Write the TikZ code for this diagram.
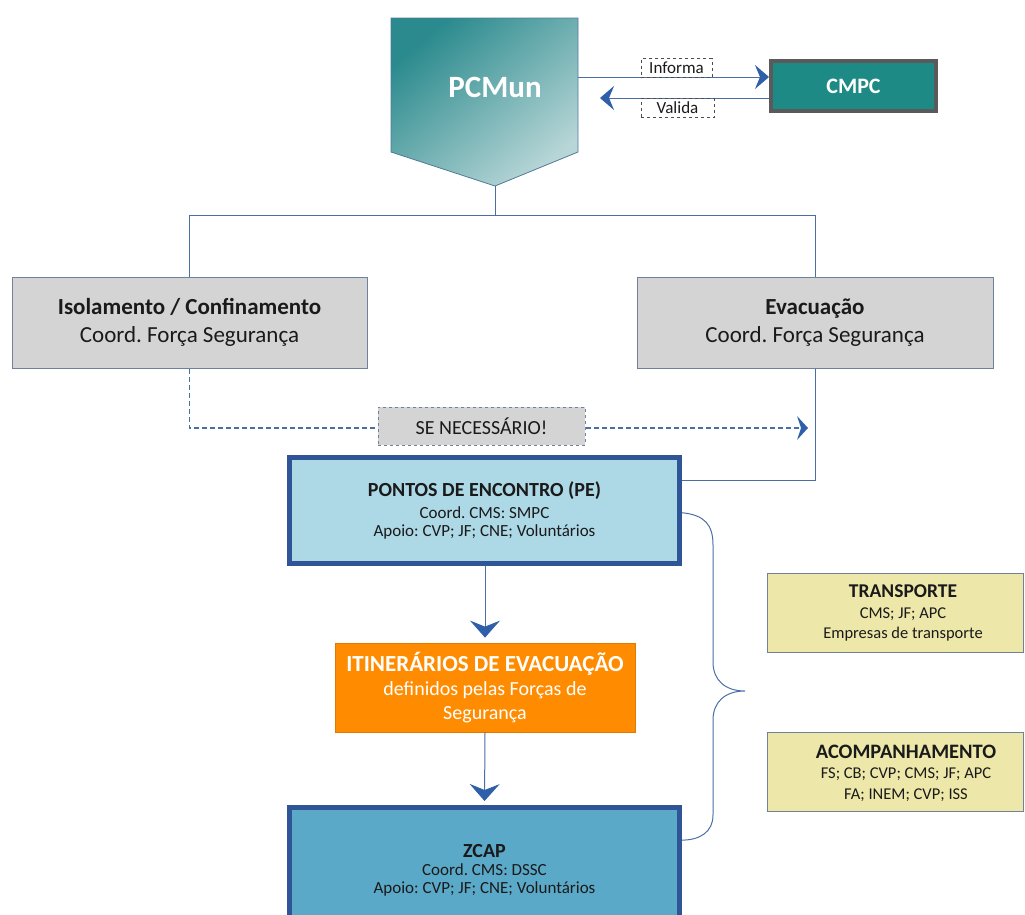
\documentclass[tikz,border=0pt]{standalone}
\usepackage{fontspec}
\setmainfont{Carlito}
\frenchspacing
\usetikzlibrary{arrows.meta,calc}
\definecolor{conn}{HTML}{4A6FA5}
\definecolor{tipc}{HTML}{2F5FA8}
\definecolor{grayfill}{HTML}{D4D4D4}
\definecolor{grayedge}{HTML}{6F819C}
\definecolor{pefill}{HTML}{ADD8E6}
\definecolor{peedge}{HTML}{2F5597}
\definecolor{orangefill}{HTML}{FF8C00}
\definecolor{zcapfill}{HTML}{5BA9C8}
\definecolor{yelfill}{HTML}{EDE7A9}
\definecolor{cmpcfill}{HTML}{1E8A85}
\definecolor{cmpcedge}{HTML}{5A5A5A}
\definecolor{tealdark}{HTML}{2A8A8D}
\definecolor{teallight}{HTML}{B8D6D7}
\definecolor{textdark}{HTML}{1A1A1A}
\definecolor{pcmedge}{HTML}{4F7A9A}
\begin{document}
\begin{tikzpicture}[x=1pt,y=-1pt,
  connector/.style={draw=conn,line width=1pt},
  tipA/.style={-{Stealth[length=14pt,width=24pt,inset=5pt,fill=tipc,color=tipc]}},
  tipB/.style={-{Stealth[length=17pt,width=30pt,inset=6pt,fill=tipc,color=tipc]}},
  graybox/.style={draw=grayedge,line width=1pt,fill=grayfill,minimum width=355pt,minimum height=91pt,align=center,inner sep=0pt,text=textdark,font=\fontsize{23}{28}\selectfont},
  pebox/.style={draw=peedge,line width=5pt,fill=pefill,minimum width=390pt,align=center,inner sep=0pt,text=textdark,font=\fontsize{17}{18}\selectfont},
  orangebox/.style={draw=orangefill!88!black,line width=0.8pt,fill=orangefill,minimum width=300pt,minimum height=89pt,align=center,inner sep=0pt,text=white,font=\fontsize{20}{24}\selectfont},
  yelbox/.style={draw=grayedge,line width=1pt,fill=yelfill,minimum width=256pt,minimum height=79pt,inner sep=0pt},
  yeltext/.style={align=center,inner sep=0pt,text=textdark,font=\fontsize{16.5}{20.5}\selectfont},
  labelbox/.style={draw=black!70,dashed,line width=0.7pt,inner sep=0pt,minimum height=19pt,font=\fontsize{17}{18}\selectfont,text=textdark},
  sebox/.style={draw=grayedge,dashed,line width=1pt,fill=grayfill,minimum width=207pt,minimum height=38pt,inner sep=0pt,font=\fontsize{20}{22}\selectfont,text=textdark},
]
\useasboundingbox (0,0) rectangle (1025,914);
\clip (0,0) rectangle (1025,914);

% PCMun pentagon
\shade[top color=tealdark,bottom color=teallight,shading angle=40]
  (391,18) -- (578,18) -- (578,152) -- (495,186) -- (391,152) -- cycle;
\draw[pcmedge,line width=0.8pt] (391,18) -- (578,18) -- (578,152) -- (495,186) -- (391,152) -- cycle;
\node[text=white,font=\fontsize{31}{33}\selectfont\bfseries] (pcmun) at (495,87) {PCMun};
\coordinate (pcmtip) at (495,186);
\coordinate (pcmr1) at (578,77);
\coordinate (pcmr2) at (600,98);

% CMPC
\node[draw=cmpcedge,line width=4pt,fill=cmpcfill,minimum width=165pt,minimum height=50pt,inner sep=0pt,text=white,font=\fontsize{22}{24}\selectfont\bfseries] (cmpc) at (853.5,86) {CMPC};

\draw[connector,tipA] (pcmr1) -- (pcmr1 -| cmpc.west);
\draw[connector,tipA] (pcmr2 -| cmpc.west) -- (pcmr2);
\node[labelbox,minimum width=71pt] (informa) at (676.5,68) {Informa};
\node[labelbox,minimum width=73pt] (valida) at (677.5,108) {Valida};

% second level
\node[graybox] (iso) at (189.5,322.5) {\textbf{Isolamento / Confinamento}\\Coord. Força Segurança};
\node[graybox,minimum width=356pt] (evac) at (815,322.5) {\textbf{Evacuação}\\Coord. Força Segurança};
\coordinate (split) at (495,215);
\draw[connector] (pcmtip) -- (split);
\draw[connector] (split) -| (iso.north);
\draw[connector] (split) -| (evac.north);

% PE
\node[pebox,minimum height=106pt] (pe) at (484.5,510.5) {\textbf{\fontsize{20}{20}\selectfont PONTOS DE ENCONTRO (PE)}\\[4pt]Coord. CMS: SMPC\\Apoio: CVP; JF; CNE; Voluntários};

% dashed "se necessario"
\coordinate (seend) at (808,428);
\draw[connector,dash pattern=on 5pt off 3pt,line width=1.3pt] (iso.south) |- (seend);
\fill[tipc] (seend) -- ++(-11,-12) -- ++(4,12) -- ++(-4,12) -- cycle;
\node[sebox] (sen) at (481.5,426) {SE NECESSÁRIO!};

% evac to PE
\draw[connector] (evac.south) |- ($(pe.north east)!0.23!(pe.south east)$);

% itinerarios
\node[orangebox] (itin) at (485,687.5) {\textbf{\fontsize{23}{24}\selectfont ITINERÁRIOS DE EVACUAÇÃO}\\definidos pelas Forças de\\Segurança};

% ZCAP
\node[pebox,fill=zcapfill,minimum height=125pt] (zcap) at (484.5,870) {\textbf{\fontsize{20}{20}\selectfont ZCAP}\\Coord. CMS: DSSC\\Apoio: CVP; JF; CNE; Voluntários};

\draw[connector,tipB,shorten >=5pt] (pe.south -| itin.north) -- (itin.north);
\draw[connector,tipB,shorten >=4pt] (itin.south) -- (zcap.north);

% brace
\coordinate (bracetip) at (745,691);
\draw[connector] ($(pe.north east)!0.52!(pe.south east)$) .. controls (705,515) and (713,525) .. (713,545)
  -- (713,662) .. controls (713,680) and (725,691) .. (bracetip)
  .. controls (725,691) and (713,702) .. (713,720)
  -- (713,815) .. controls (713,832) and (700,840) .. ($(zcap.north east)!0.27!(zcap.south east)$);

% right boxes
\node[yelbox] (transp) at (895,612.5) {};
\node[yeltext] (transpt) at (903,613) {\textbf{\fontsize{19.5}{20}\selectfont TRANSPORTE}\\CMS; JF; APC\\Empresas de transporte};
\node[yelbox] (acomp) at (895,771.5) {};
\node[yeltext] (acompt) at (906,773) {\textbf{\fontsize{20.5}{20}\selectfont ACOMPANHAMENTO}\\FS; CB; CVP; CMS; JF; APC\\FA; INEM; CVP; ISS};
\end{tikzpicture}
\end{document}
